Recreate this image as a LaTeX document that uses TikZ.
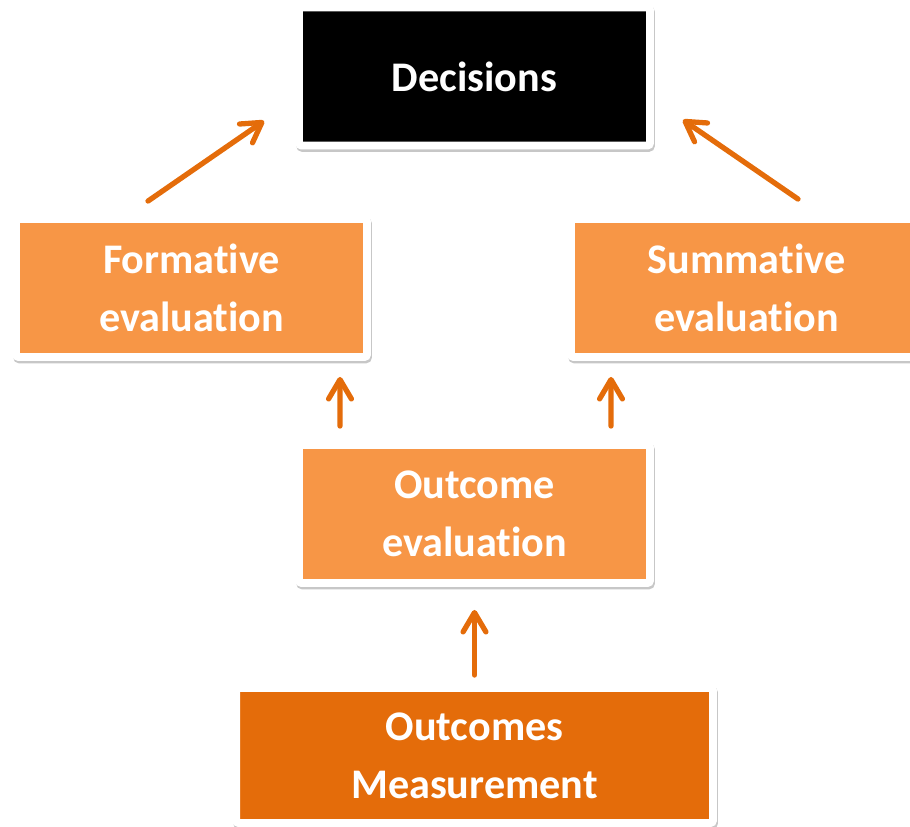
\documentclass[tikz,border=0pt]{standalone}
\usepackage{fontspec}
\setmainfont{Carlito}[Ligatures=NoCommon]
\usetikzlibrary{arrows.meta,calc,shadows}
\definecolor{lightorange}{HTML}{F79646}
\definecolor{darkorange}{HTML}{E46C0A}
\tikzset{
  box/.style={draw=white, line width=4.5pt, rounded corners=1.5pt,
    minimum width=7.02cm, minimum height=2.76cm, inner sep=0pt,
    text=white, align=center, font=\fontsize{24}{33}\selectfont\bfseries,
    general shadow={fill=black, draw=black, line width=4.5pt, opacity=.22,
      shadow xshift=.6pt, shadow yshift=-1.4pt}},
  arr/.style={draw=darkorange, line width=3pt, line cap=round,
    -{Straight Barb[length=11pt,width=13pt,round]}}
}
\begin{document}
\begin{tikzpicture}[x=0.02cm,y=0.02cm]
            \useasboundingbox (0,0) rectangle (910,826);
            \node[box, fill=black] (dec) at (474.5,749.5) {Decisions};
            \node[box, fill=lightorange] (form) at (191.5,538) {Formative\\evaluation};
            \node[box, fill=lightorange] (summ) at (746.5,538) {Summative\\evaluation};
            \node[box, fill=lightorange] (oeval) at (474.5,312) {Outcome\\evaluation};
            \node[box, fill=darkorange, minimum width=9.54cm, minimum height=2.7cm] (meas) at (474.5,70.5) {Outcomes\\Measurement};
            \coordinate (fa) at ($ (form.north)+(-43.5,14) $);
            \coordinate (fb) at ($ (dec.south west)+(-31,28.5) $);
            \coordinate (sa) at ($ (summ.north)+(51.5,16) $);
            \coordinate (sb) at ($ (dec.south east)+(29,29.5) $);
            \coordinate (ofa) at ($ (oeval.north)+(-134.5,15) $);
            \coordinate (ofb) at ($ (form.south)+(148.5,-16) $);
            \coordinate (osa) at ($ (oeval.north)+(136.5,15) $);
            \coordinate (osb) at ($ (summ.south)+(-135.5,-16) $);
            \coordinate (ma) at ($ (meas.north)+(0,9) $);
            \coordinate (mb) at ($ (oeval.south)+(0,-23) $);
            \draw[arr] (fa) -- (fb);
            \draw[arr] (sa) -- (sb);
            \draw[arr] (ofa) -- (ofb);
            \draw[arr] (osa) -- (osb);
            \draw[arr] (ma) -- (mb);
        \end{tikzpicture}
\end{document}
